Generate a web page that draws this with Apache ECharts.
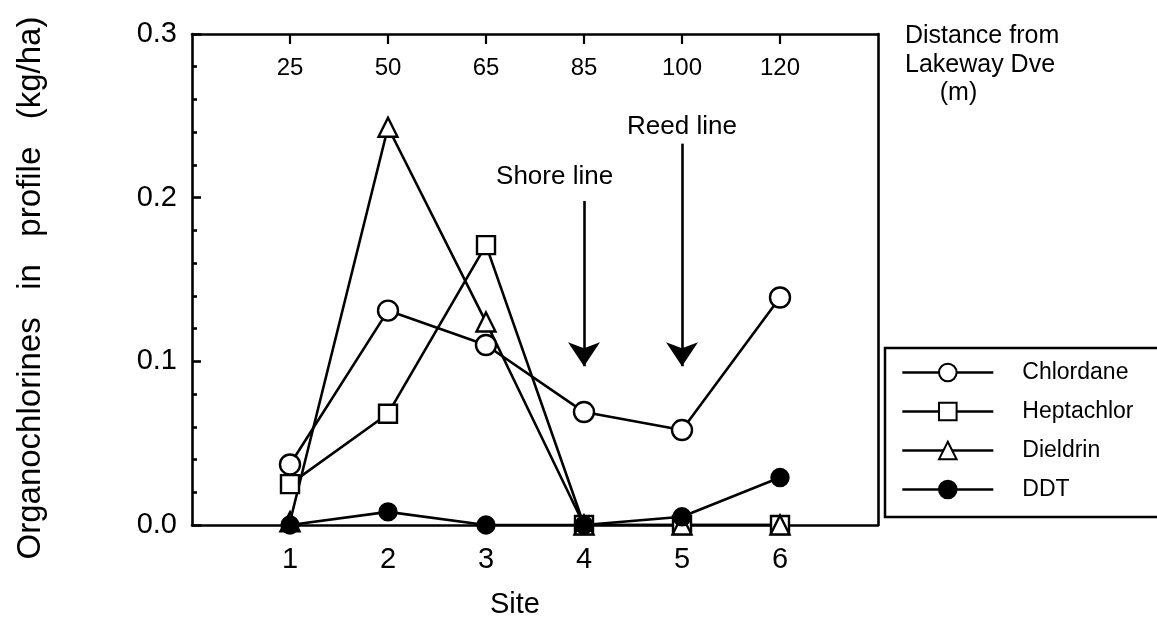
<!DOCTYPE html>
<html>
<head>
<meta charset="utf-8">
<script src="https://cdn.jsdelivr.net/npm/echarts@6/dist/echarts.min.js"></script>
<style>
html,body{margin:0;padding:0;background:#fff;}
#chart{width:1157px;height:628px;}
</style>
</head>
<body>
<div id="chart"></div>
<script>
// ---- data ----
var sites = [1, 2, 3, 4, 5, 6];
var distances = [25, 50, 65, 85, 100, 120];
var chlordane = [0.037, 0.131, 0.110, 0.069, 0.058, 0.139];
var heptachlor = [0.025, 0.068, 0.171, 0.000, 0.000, 0.000];
var dieldrin = [0.002, 0.243, 0.124, 0.000, 0.000, 0.000];
var ddt = [0.000, 0.008, 0.000, 0.000, 0.005, 0.029];
var yTicks = [0.0, 0.1, 0.2, 0.3];
var shoreLine = {site: 4, label: 'Shore line', textY: 0.213, from: 0.198, to: 0.097};
var reedLine = {site: 5, label: 'Reed line', textY: 0.243, from: 0.233, to: 0.097};

var FONT = '"Liberation Sans", Arial, Helvetica, sans-serif';
function pairs(vals) { return sites.map(function (s, i) { return [s, vals[i]]; }); }

function mkSeries(name, vals, symbol, size, filled) {
  return {
    name: name, type: 'line', data: pairs(vals),
    symbol: symbol, symbolSize: size, showSymbol: true,
    lineStyle: {color: '#000', width: 2.6},
    itemStyle: {color: filled ? '#000' : '#fff', borderColor: '#000', borderWidth: 2.4, opacity: 1},
    emphasis: {disabled: true},
    clip: true, z: 3
  };
}

var chart = echarts.init(document.getElementById('chart'), null, {renderer: 'canvas'});
var option = {
  animation: false,
  backgroundColor: '#fff',
  textStyle: {fontFamily: FONT, color: '#000'},
  title: {
    text: 'Distance from\nLakeway Dve\n     (m)',
    left: 900, top: 17,
    textStyle: {fontFamily: FONT, fontSize: 25, fontWeight: 'normal', color: '#000', lineHeight: 28.5}
  },
  grid: {left: 192, right: 279, top: 34, bottom: 103, containLabel: false},
  legend: {
    orient: 'vertical', left: 885, top: 348,
    data: ['Chlordane', 'Heptachlor', 'Dieldrin', 'DDT'],
    itemWidth: 91, itemHeight: 22, itemGap: 16,
    padding: [13, 60, 16, 16],
    borderColor: '#000', borderWidth: 2.5,
    lineStyle: {width: 2.6, color: '#000'},
    textStyle: {fontFamily: FONT, fontSize: 23, color: '#000', padding: [0, 0, 0, 24]},
    selectedMode: false
  },
  xAxis: [{
    type: 'value', position: 'bottom', min: 0, max: 7, interval: 1,
    name: 'Site', nameLocation: 'middle', nameGap: 65,
    nameTextStyle: {fontFamily: FONT, fontSize: 29, color: '#000', padding: [0, 40, 0, 0]},
    axisLine: {show: true, onZero: false, lineStyle: {color: '#000', width: 2.6}},
    axisTick: {show: false},
    splitLine: {show: false},
    axisLabel: {
      fontFamily: FONT, fontSize: 29, color: '#000', margin: 20,
      formatter: function (v) { return sites.indexOf(v) >= 0 ? String(v) : ''; }
    }
  }, {
    type: 'value', position: 'top', min: 0, max: 7, interval: 1,
    axisLine: {show: true, onZero: false, lineStyle: {color: '#000', width: 2.6}},
    axisTick: {show: true, inside: true, length: 10, lineStyle: {color: '#000', width: 2.2},
      customValues: sites},
    splitLine: {show: false},
    axisLabel: {
      inside: true, fontFamily: FONT, fontSize: 24, color: '#000', margin: 22,
      customValues: sites,
      formatter: function (v) { var i = sites.indexOf(v); return i >= 0 ? String(distances[i]) : ''; }
    }
  }],
  yAxis: [{
    type: 'value', position: 'left', min: 0, max: 0.3, interval: 0.1,
    name: 'Organochlorines   in   profile   (kg/ha)', nameLocation: 'middle', nameGap: 145,
    nameTextStyle: {fontFamily: FONT, fontSize: 33, color: '#000', padding: [0, 0, 0, -17]},
    axisLine: {show: true, onZero: false, lineStyle: {color: '#000', width: 2.6}},
    axisTick: {show: true, inside: true, length: 9, lineStyle: {color: '#000', width: 2.6}},
    minorTick: {show: true, splitNumber: 5, length: 5, lineStyle: {color: '#000', width: 2.6}},
    splitLine: {show: false},
    minorSplitLine: {show: false},
    axisLabel: {
      fontFamily: FONT, fontSize: 29, color: '#000', margin: 15,
      formatter: function (v) { return v.toFixed(1); }
    }
  }, {
    type: 'value', position: 'right', min: 0, max: 0.3, interval: 0.1,
    axisLine: {show: true, onZero: false, lineStyle: {color: '#000', width: 2.6}},
    axisTick: {show: false}, axisLabel: {show: false}, splitLine: {show: false}
  }],
  series: [
    mkSeries('Chlordane', chlordane, 'circle', 20, false),
    mkSeries('Heptachlor', heptachlor, 'rect', 18, false),
    mkSeries('Dieldrin', dieldrin, 'triangle', 19, false),
    mkSeries('DDT', ddt, 'circle', 17, true),
    {
      name: 'annotations', type: 'line', data: [], silent: true, z: 5,
      markLine: {
        silent: true, symbol: ['none', 'arrow'], symbolSize: 24,
        lineStyle: {color: '#000', width: 2.6, type: 'solid'},
        itemStyle: {color: '#000'},
        label: {show: false},
        emphasis: {disabled: true},
        data: [
          [{coord: [shoreLine.site, shoreLine.from]}, {coord: [shoreLine.site, shoreLine.to]}],
          [{coord: [reedLine.site, reedLine.from]}, {coord: [reedLine.site, reedLine.to]}]
        ]
      },
      markPoint: {
        silent: true, symbol: 'rect', symbolSize: 1,
        itemStyle: {color: 'rgba(0,0,0,0)'},
        label: {show: true, position: 'inside', fontFamily: FONT, fontSize: 26, color: '#000'},
        data: [
          {coord: [shoreLine.site - 0.3, shoreLine.textY], value: shoreLine.label,
            label: {formatter: shoreLine.label}},
          {coord: [reedLine.site, reedLine.textY], value: reedLine.label,
            label: {formatter: reedLine.label}}
        ]
      }
    }
  ]
};
chart.setOption(option);
</script>
</body>
</html>
